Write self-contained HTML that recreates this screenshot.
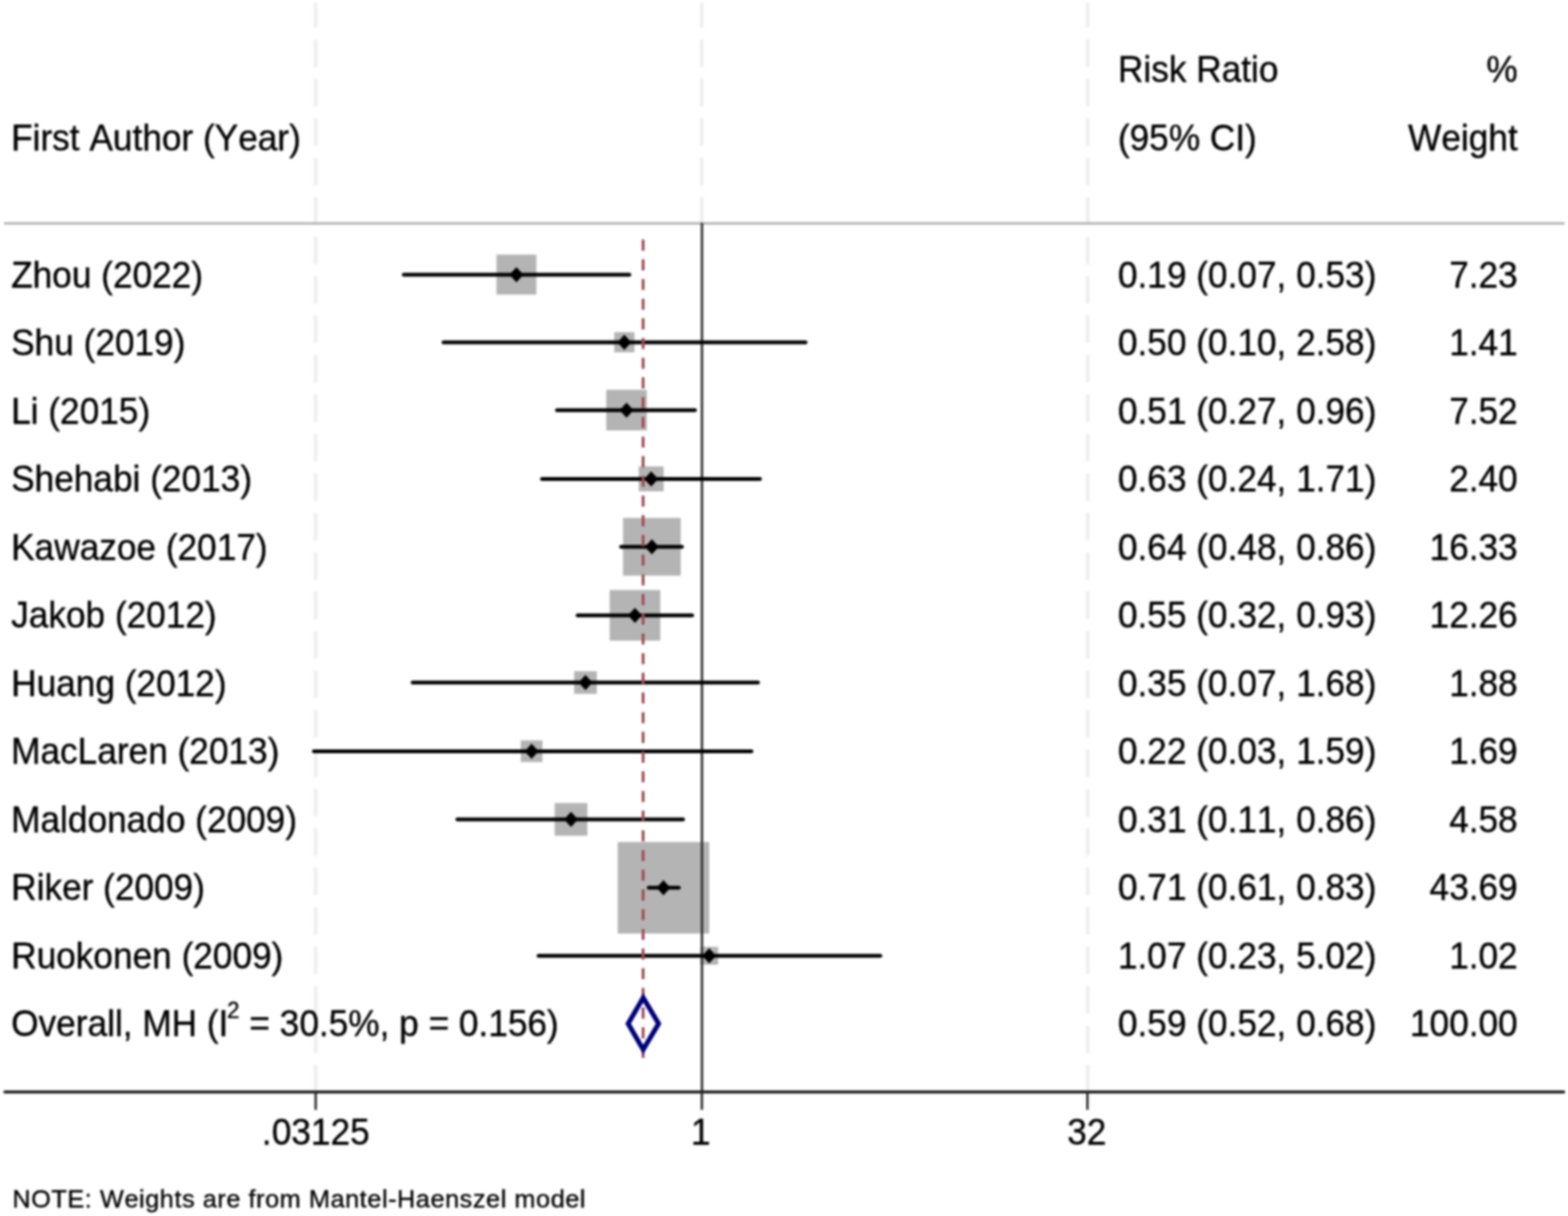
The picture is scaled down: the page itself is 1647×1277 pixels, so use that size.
<!DOCTYPE html>
<html><head><meta charset="utf-8"><title>Forest plot</title><style>html,body{margin:0;padding:0;background:#fff;overflow:hidden}svg{display:block}</style></head><body>
<svg width="1647" height="1277" viewBox="0 0 1647 1277">
<defs><filter id="soft" x="0" y="0" width="1" height="1" color-interpolation-filters="sRGB"><feGaussianBlur stdDeviation="0.9"/></filter></defs>
<g filter="url(#soft)">
<rect width="1647" height="1277" fill="#fff"/>
<line x1="331.5" y1="2.7" x2="331.5" y2="1146" stroke="#efefef" stroke-width="4" stroke-dasharray="29 12.42" stroke-dashoffset="2.7"/>
<line x1="1142.5" y1="2.7" x2="1142.5" y2="1146" stroke="#efefef" stroke-width="4" stroke-dasharray="29 12.42" stroke-dashoffset="2.7"/>
<line x1="737" y1="2.7" x2="737" y2="234" stroke="#efefef" stroke-width="4" stroke-dasharray="29 12.42" stroke-dashoffset="2.7"/>
<line x1="5" y1="234.6" x2="1642.5" y2="234.6" stroke="#aaaaaa" stroke-width="2.2" stroke-linecap="round"/>
<rect x="521.48" y="267.43" width="41.93" height="41.93" fill="#b4b4b4"/>
<rect x="645.20" y="348.80" width="21.20" height="21.20" fill="#b4b4b4"/>
<rect x="636.78" y="409.36" width="42.67" height="42.67" fill="#b4b4b4"/>
<rect x="670.90" y="489.80" width="26.19" height="26.19" fill="#b4b4b4"/>
<rect x="654.41" y="543.90" width="60.61" height="60.61" fill="#b4b4b4"/>
<rect x="640.39" y="619.62" width="53.15" height="53.15" fill="#b4b4b4"/>
<rect x="603.13" y="704.93" width="23.74" height="23.74" fill="#b4b4b4"/>
<rect x="547.02" y="777.52" width="22.75" height="22.75" fill="#b4b4b4"/>
<rect x="582.62" y="843.32" width="34.35" height="34.35" fill="#b4b4b4"/>
<rect x="648.84" y="884.26" width="96.08" height="96.08" fill="#b4b4b4"/>
<rect x="735.55" y="994.33" width="18.75" height="18.75" fill="#b4b4b4"/>
<line x1="737.3" y1="234" x2="737.3" y2="1147" stroke="#333" stroke-width="2.6"/>
<line x1="424.10" y1="288.4" x2="661.10" y2="288.4" stroke="#000" stroke-width="4" stroke-linecap="round"/>
<path d="M542.45 280.40L549.75 288.4L542.45 296.40L535.15 288.4Z" fill="#000"/>
<line x1="465.80" y1="359.4" x2="846.20" y2="359.4" stroke="#000" stroke-width="4" stroke-linecap="round"/>
<path d="M655.80 351.40L663.10 359.4L655.80 367.40L648.50 359.4Z" fill="#000"/>
<line x1="585.00" y1="430.7" x2="730.00" y2="430.7" stroke="#000" stroke-width="4" stroke-linecap="round"/>
<path d="M658.12 422.70L665.42 430.7L658.12 438.70L650.82 430.7Z" fill="#000"/>
<line x1="569.20" y1="502.9" x2="798.30" y2="502.9" stroke="#000" stroke-width="4" stroke-linecap="round"/>
<path d="M684.00 494.90L691.30 502.9L684.00 510.90L676.70 502.9Z" fill="#000"/>
<line x1="652.40" y1="574.2" x2="716.30" y2="574.2" stroke="#000" stroke-width="4" stroke-linecap="round"/>
<path d="M684.72 566.20L692.02 574.2L684.72 582.20L677.42 574.2Z" fill="#000"/>
<line x1="606.70" y1="646.2" x2="727.00" y2="646.2" stroke="#000" stroke-width="4" stroke-linecap="round"/>
<path d="M666.96 638.20L674.26 646.2L666.96 654.20L659.66 646.2Z" fill="#000"/>
<line x1="433.40" y1="716.8" x2="796.20" y2="716.8" stroke="#000" stroke-width="4" stroke-linecap="round"/>
<path d="M615.00 708.80L622.30 716.8L615.00 724.80L607.70 716.8Z" fill="#000"/>
<line x1="329.60" y1="788.9" x2="789.40" y2="788.9" stroke="#000" stroke-width="4" stroke-linecap="round"/>
<path d="M558.40 780.90L565.70 788.9L558.40 796.90L551.10 788.9Z" fill="#000"/>
<line x1="480.40" y1="860.5" x2="717.50" y2="860.5" stroke="#000" stroke-width="4" stroke-linecap="round"/>
<path d="M599.80 852.50L607.10 860.5L599.80 868.50L592.50 860.5Z" fill="#000"/>
<line x1="681.40" y1="932.3" x2="713.00" y2="932.3" stroke="#000" stroke-width="4" stroke-linecap="round"/>
<path d="M696.88 924.30L704.18 932.3L696.88 940.30L689.58 932.3Z" fill="#000"/>
<line x1="565.60" y1="1003.7" x2="924.70" y2="1003.7" stroke="#000" stroke-width="4" stroke-linecap="round"/>
<path d="M744.93 995.70L752.23 1003.7L744.93 1011.70L737.63 1003.7Z" fill="#000"/>
<line x1="675.5" y1="251.6" x2="675.5" y2="1111.5" stroke="#a04b57" stroke-width="3" stroke-dasharray="11.6 9.08"/>
<path d="M659.8 1075.0L675.6 1047.8L691.8 1075.0L675.6 1102.2Z" fill="none" stroke="#00007a" stroke-width="5.1"/>
<line x1="5" y1="1146.8" x2="1642.5" y2="1146.8" stroke="#111" stroke-width="3" stroke-linecap="round"/>
<line x1="331.6" y1="1146" x2="331.6" y2="1165.5" stroke="#222" stroke-width="2.4"/>
<line x1="737.2" y1="1146" x2="737.2" y2="1165.5" stroke="#222" stroke-width="2.4"/>
<line x1="1142.2" y1="1146" x2="1142.2" y2="1165.5" stroke="#222" stroke-width="2.4"/>
<g font-family="Liberation Sans, Arial, sans-serif" font-size="37" fill="#000" stroke="#000" stroke-width="0.35" style="font-kerning:none">
<text x="275.12 285.4 305.98 326.56 347.13 367.71" y="0" transform="translate(0 1202.00) scale(1 1.03)">.03125</text>
<text x="725.71" y="0" transform="translate(0 1202.00) scale(1 1.03)">1</text>
<text x="1120.89 1141.47" y="0" transform="translate(0 1202.00) scale(1 1.03)">32</text>
<text x="11.7 34.3 42.52 54.84 73.34 83.62 93.9 118.58 139.16 149.44 170.02 190.59 202.91 213.19 225.52 250.19 270.77 291.35 303.67" y="0" transform="translate(0 158.00) scale(1 1.03)">First Author (Year)</text>
<text x="1174.2 1200.92 1209.14 1227.64 1246.14 1256.42 1283.14 1303.72 1314 1322.22" y="0" transform="translate(0 85.50) scale(1 1.03)">Risk Ratio</text>
<text x="1174.2 1186.52 1207.1 1227.68 1260.58 1270.86 1297.58 1307.86" y="0" transform="translate(0 158.00) scale(1 1.03)">(95% CI)</text>
<text x="1561.3" y="0" transform="translate(0 85.50) scale(1 1.03)">%</text>
<text x="1479.04 1513.97 1534.54 1542.76 1563.34 1583.92" y="0" transform="translate(0 158.00) scale(1 1.03)">Weight</text>
<text x="11.7 34.3 54.88 75.46 96.03 106.31 118.64 139.21 159.79 180.37 200.95" y="0" transform="translate(0 301.70) scale(1 1.03)">Zhou (2022)</text>
<text x="1174.2 1194.78 1205.06 1225.64 1246.21 1256.49 1268.81 1289.39 1299.67 1320.25 1340.83 1351.11 1361.39 1381.96 1392.24 1412.82 1433.4" y="0" transform="translate(0 301.70) scale(1 1.03)">0.19 (0.07, 0.53)</text>
<text x="1522.19 1542.76 1553.04 1573.62" y="0" transform="translate(0 301.70) scale(1 1.03)">7.23</text>
<text x="11.7 36.38 56.96 77.53 87.81 100.14 120.71 141.29 161.87 182.45" y="0" transform="translate(0 373.20) scale(1 1.03)">Shu (2019)</text>
<text x="1174.2 1194.78 1205.06 1225.64 1246.21 1256.49 1268.81 1289.39 1299.67 1320.25 1340.83 1351.11 1361.39 1381.96 1392.24 1412.82 1433.4" y="0" transform="translate(0 373.20) scale(1 1.03)">0.50 (0.10, 2.58)</text>
<text x="1522.19 1542.76 1553.04 1573.62" y="0" transform="translate(0 373.20) scale(1 1.03)">1.41</text>
<text x="11.7 32.28 40.5 50.78 63.1 83.68 104.25 124.83 145.41" y="0" transform="translate(0 444.70) scale(1 1.03)">Li (2015)</text>
<text x="1174.2 1194.78 1205.06 1225.64 1246.21 1256.49 1268.81 1289.39 1299.67 1320.25 1340.83 1351.11 1361.39 1381.96 1392.24 1412.82 1433.4" y="0" transform="translate(0 444.70) scale(1 1.03)">0.51 (0.27, 0.96)</text>
<text x="1522.19 1542.76 1553.04 1573.62" y="0" transform="translate(0 444.70) scale(1 1.03)">7.52</text>
<text x="11.7 36.38 56.96 77.53 98.11 118.69 139.27 147.49 157.77 170.09 190.67 211.24 231.82 252.4" y="0" transform="translate(0 516.20) scale(1 1.03)">Shehabi (2013)</text>
<text x="1174.2 1194.78 1205.06 1225.64 1246.21 1256.49 1268.81 1289.39 1299.67 1320.25 1340.83 1351.11 1361.39 1381.96 1392.24 1412.82 1433.4" y="0" transform="translate(0 516.20) scale(1 1.03)">0.63 (0.24, 1.71)</text>
<text x="1522.19 1542.76 1553.04 1573.62" y="0" transform="translate(0 516.20) scale(1 1.03)">2.40</text>
<text x="11.7 36.38 56.96 83.68 104.25 122.75 143.33 163.91 174.19 186.51 207.09 227.67 248.24 268.82" y="0" transform="translate(0 587.70) scale(1 1.03)">Kawazoe (2017)</text>
<text x="1174.2 1194.78 1205.06 1225.64 1246.21 1256.49 1268.81 1289.39 1299.67 1320.25 1340.83 1351.11 1361.39 1381.96 1392.24 1412.82 1433.4" y="0" transform="translate(0 587.70) scale(1 1.03)">0.64 (0.48, 0.86)</text>
<text x="1501.61 1522.19 1542.76 1553.04 1573.62" y="0" transform="translate(0 587.70) scale(1 1.03)">16.33</text>
<text x="11.7 30.2 50.78 69.28 89.86 110.43 120.71 133.03 153.61 174.19 194.77 215.34" y="0" transform="translate(0 659.20) scale(1 1.03)">Jakob (2012)</text>
<text x="1174.2 1194.78 1205.06 1225.64 1246.21 1256.49 1268.81 1289.39 1299.67 1320.25 1340.83 1351.11 1361.39 1381.96 1392.24 1412.82 1433.4" y="0" transform="translate(0 659.20) scale(1 1.03)">0.55 (0.32, 0.93)</text>
<text x="1501.61 1522.19 1542.76 1553.04 1573.62" y="0" transform="translate(0 659.20) scale(1 1.03)">12.26</text>
<text x="11.7 38.42 59 79.58 100.15 120.73 131.01 143.33 163.91 184.49 205.06 225.64" y="0" transform="translate(0 730.70) scale(1 1.03)">Huang (2012)</text>
<text x="1174.2 1194.78 1205.06 1225.64 1246.21 1256.49 1268.81 1289.39 1299.67 1320.25 1340.83 1351.11 1361.39 1381.96 1392.24 1412.82 1433.4" y="0" transform="translate(0 730.70) scale(1 1.03)">0.35 (0.07, 1.68)</text>
<text x="1522.19 1542.76 1553.04 1573.62" y="0" transform="translate(0 730.70) scale(1 1.03)">1.88</text>
<text x="11.7 42.52 63.1 81.6 102.18 122.75 135.08 155.65 176.23 186.51 198.83 219.41 239.99 260.56 281.14" y="0" transform="translate(0 802.20) scale(1 1.03)">MacLaren (2013)</text>
<text x="1174.2 1194.78 1205.06 1225.64 1246.21 1256.49 1268.81 1289.39 1299.67 1320.25 1340.83 1351.11 1361.39 1381.96 1392.24 1412.82 1433.4" y="0" transform="translate(0 802.20) scale(1 1.03)">0.22 (0.03, 1.59)</text>
<text x="1522.19 1542.76 1553.04 1573.62" y="0" transform="translate(0 802.20) scale(1 1.03)">1.69</text>
<text x="11.7 42.52 63.1 71.32 91.9 112.47 133.05 153.63 174.21 194.78 205.06 217.39 237.96 258.54 279.12 299.7" y="0" transform="translate(0 873.70) scale(1 1.03)">Maldonado (2009)</text>
<text x="1174.2 1194.78 1205.06 1225.64 1246.21 1256.49 1268.81 1289.39 1299.67 1320.25 1340.83 1351.11 1361.39 1381.96 1392.24 1412.82 1433.4" y="0" transform="translate(0 873.70) scale(1 1.03)">0.31 (0.11, 0.86)</text>
<text x="1522.19 1542.76 1553.04 1573.62" y="0" transform="translate(0 873.70) scale(1 1.03)">4.58</text>
<text x="11.7 38.42 46.64 65.14 85.72 98.04 108.32 120.64 141.22 161.8 182.37 202.95" y="0" transform="translate(0 945.20) scale(1 1.03)">Riker (2009)</text>
<text x="1174.2 1194.78 1205.06 1225.64 1246.21 1256.49 1268.81 1289.39 1299.67 1320.25 1340.83 1351.11 1361.39 1381.96 1392.24 1412.82 1433.4" y="0" transform="translate(0 945.20) scale(1 1.03)">0.71 (0.61, 0.83)</text>
<text x="1501.61 1522.19 1542.76 1553.04 1573.62" y="0" transform="translate(0 945.20) scale(1 1.03)">43.69</text>
<text x="11.7 38.42 59 79.58 98.08 118.65 139.23 159.81 180.39 190.67 202.99 223.56 244.14 264.72 285.3" y="0" transform="translate(0 1016.70) scale(1 1.03)">Ruokonen (2009)</text>
<text x="1174.2 1194.78 1205.06 1225.64 1246.21 1256.49 1268.81 1289.39 1299.67 1320.25 1340.83 1351.11 1361.39 1381.96 1392.24 1412.82 1433.4" y="0" transform="translate(0 1016.70) scale(1 1.03)">1.07 (0.23, 5.02)</text>
<text x="1522.19 1542.76 1553.04 1573.62" y="0" transform="translate(0 1016.70) scale(1 1.03)">1.02</text>
<text x="11.7 40.48 58.98 79.56 91.88 112.46 120.68 128.9 139.18 149.46 180.28 207 217.28 229.6" y="0" transform="translate(0 1088.20) scale(1 1.03)">Overall, MH (I</text>
<text x="238.58" y="1068.60" font-size="23.5">2</text>
<text x="261.93 283.54 293.82 314.39 334.97 345.25 365.83 398.73 409.01 419.29 439.86 450.14 471.75 482.03 502.61 512.89 533.47 554.04 574.62" y="0" transform="translate(0 1088.20) scale(1 1.03)">= 30.5%, p = 0.156)</text>
<text x="1174.2 1194.78 1205.06 1225.64 1246.21 1256.49 1268.81 1289.39 1299.67 1320.25 1340.83 1351.11 1361.39 1381.96 1392.24 1412.82 1433.4" y="0" transform="translate(0 1088.20) scale(1 1.03)">0.59 (0.52, 0.68)</text>
<text x="1481.03 1501.61 1522.19 1542.76 1553.04 1573.62" y="0" transform="translate(0 1088.20) scale(1 1.03)">100.00</text>
<text x="13.03 32.77 53.99 70.79 89.07 97.04 105.01 130.63 145.97 152.47 167.81 183.16 191.13 204.99 212.95 228.3 237.73 253.08 261.05 269.02 278.45 293.79 316.48 324.45 347.13 362.47 377.82 385.79 401.13 407.63 417.06 436.81 452.15 467.5 482.84 496.7 510.56 525.9 532.4 540.37 563.05 578.39 593.74 609.09" y="1268.00" font-size="26.5">NOTE: Weights are from Mantel-Haenszel model</text>
</g>
</g>
</svg>
</body></html>
